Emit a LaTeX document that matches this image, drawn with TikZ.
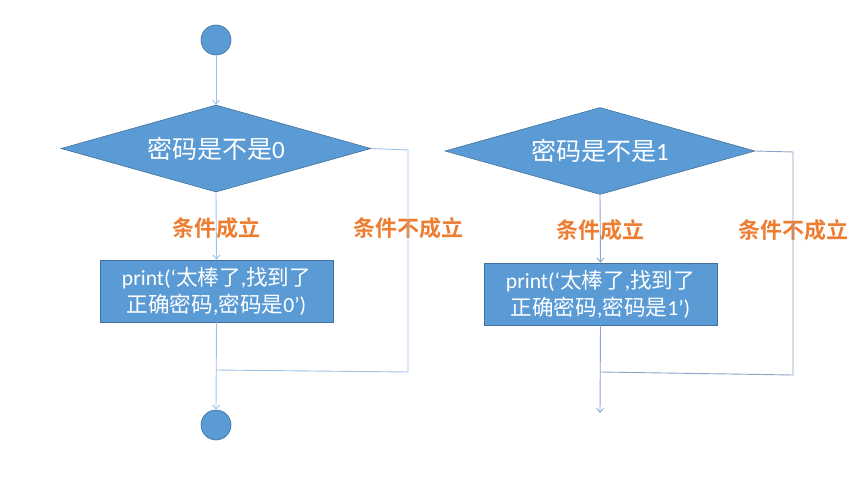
\documentclass[tikz,border=0pt]{standalone}
\usepackage{fontspec}
\setmainfont{Carlito}
\newfontfamily\cjk{Noto Sans CJK SC}
\newfontfamily\cjkb{Noto Sans CJK SC Bold}
\usetikzlibrary{shapes.geometric,arrows.meta}
\definecolor{boxfill}{HTML}{5B9BD5}
\definecolor{boxline}{HTML}{41719C}
\definecolor{lineL}{HTML}{9CC2E5}
\definecolor{lineR}{HTML}{8AA5C5}
\definecolor{lab}{HTML}{ED7D31}
\tikzset{
  term/.style={circle,fill=boxfill,draw=boxline,line width=0.6pt,minimum size=30pt,inner sep=0pt},
  decision/.style={diamond,aspect=3.563,fill=boxfill,draw=boxline,line width=0.6pt,minimum width=310pt,minimum height=87pt,inner sep=0pt,text=white,font=\fontsize{25}{28}\selectfont},
  proc/.style={rectangle,fill=boxfill,draw=boxline,line width=0.6pt,minimum width=233pt,minimum height=62pt,inner sep=0pt,text=white,align=center,font=\fontsize{21.6}{27}\selectfont},
  cond/.style={text=lab,font=\cjkb\fontsize{22}{24}\selectfont,inner sep=0pt},
  conL/.style={draw=lineL,line width=0.9pt},
  conR/.style={draw=lineR,line width=0.9pt},
  arr/.style={-{Straight Barb[length=4pt,width=7pt]}},
}
\begin{document}
\begin{tikzpicture}[x=1pt,y=-1pt]
\useasboundingbox (0,0) rectangle (860,484);
% left chart
\node[term] (s1) at (216,40) {};
\node[decision] (d1) at (216,148.5) {{\cjk 密码是不是}0};
\node[proc] (p1) at (216.5,291) {print(‘{\cjk 太棒了},{\cjk 找到了}\\{\cjk 正确密码},{\cjk 密码是}0’)};
\node[term] (e1) at (216,425) {};
\node[cond] (y1) at (216,228) {条件成立};
\node[cond] (n1) at (408,228) {条件不成立};
\coordinate (r1) at (408,150);
\coordinate (b1) at (408,372);
\coordinate (m1) at (216,370);
\draw[conL,arr] (s1) -- (d1.north);
\draw[conL,arr] (d1.south) -- (p1.north);
\draw[conL,arr] (p1.south) -- (e1.north);
\draw[conL] (d1.east) -- (r1) -- (b1) -- (m1);
% right chart
\node[decision] (d2) at (600,151) {{\cjk 密码是不是}1};
\node[proc] (p2) at (600.5,294) {print(‘{\cjk 太棒了},{\cjk 找到了}\\{\cjk 正确密码},{\cjk 密码是}1’)};
\node[cond] (y2) at (600,230) {条件成立};
\node[cond] (n2) at (793,230) {条件不成立};
\coordinate (r2) at (793,152);
\coordinate (b2) at (793,375);
\coordinate (m2) at (600,372);
\coordinate (e2) at (600,413);
\draw[conR,arr] (d2.south) -- (p2.north);
\draw[conR,arr] (p2.south) -- (e2);
\draw[conR] (d2.east) -- (r2) -- (b2) -- (m2);
\end{tikzpicture}
\end{document}
